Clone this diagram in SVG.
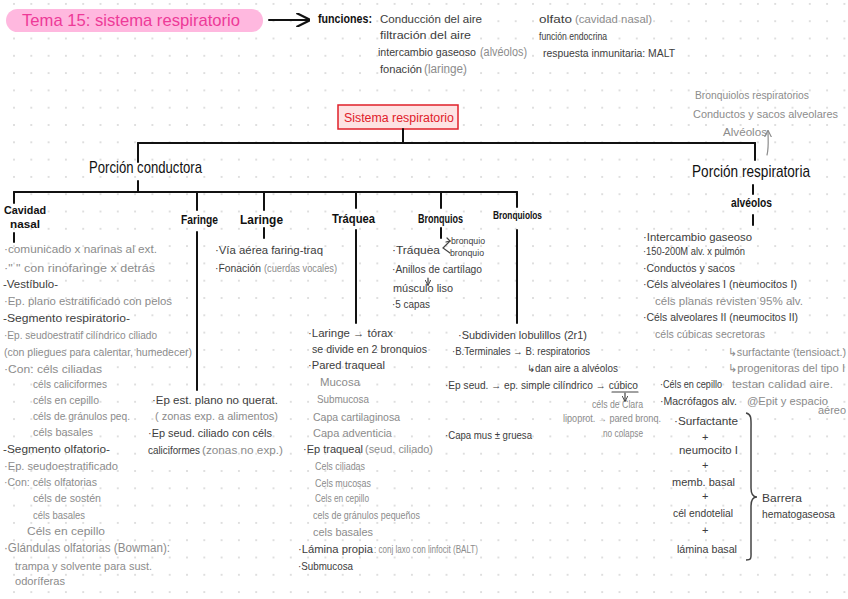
<svg xmlns="http://www.w3.org/2000/svg" width="848" height="599" viewBox="0 0 848 599">
<defs>
<pattern id="dots" patternUnits="userSpaceOnUse" x="5.35" y="-4.75" width="17.3" height="17.3">
<circle cx="8.65" cy="8.65" r="0.9" fill="#cfcfcf"/>
</pattern>
<marker id="ah" viewBox="0 0 10 10" refX="9" refY="5" markerWidth="7" markerHeight="7" orient="auto">
<path d="M0,0 L10,5 L0,10" fill="none" stroke="#111" stroke-width="1.6"/>
</marker>
<marker id="ahg" viewBox="0 0 10 10" refX="9" refY="5" markerWidth="6" markerHeight="6" orient="auto">
<path d="M0,0 L10,5 L0,10" fill="none" stroke="#8a8a8a" stroke-width="1.6"/>
</marker>
<marker id="ahd" viewBox="0 0 10 10" refX="9" refY="5" markerWidth="5" markerHeight="5" orient="auto">
<path d="M0,0 L10,5 L0,10" fill="none" stroke="#444" stroke-width="1.6"/>
</marker>
</defs>
<style>
text{font-family:"Liberation Sans",Arial,sans-serif;}
.h{fill:#111;font-size:17px;}
.b{fill:#111;font-size:12px;font-weight:bold;}
.d{fill:#3d3d3d;font-size:11px;}
.l{fill:#8c8c8c;font-size:11px;}
.s10{font-size:10px;}
.s9{font-size:9px;}
.s12{font-size:12px;}
.c{stroke:#111;stroke-width:2;fill:none;stroke-linecap:round;}
.t{stroke:#444;stroke-width:1.2;fill:none;stroke-linecap:round;}
.g{stroke:#8c8c8c;stroke-width:1.2;fill:none;stroke-linecap:round;}
</style>
<rect width="848" height="599" fill="#fff"/>
<rect width="848" height="599" fill="url(#dots)"/>

<g id="titulo">
<rect x="6" y="9" width="257" height="23" rx="11.5" fill="#ffb8df"/>
<text x="22" y="26" fill="#ee3a98" font-size="17" textLength="218" lengthAdjust="spacingAndGlyphs">Tema 15: sistema respiratorio</text>
</g>

<g id="funciones">
<text x="318" y="23" fill="#111" font-size="13" font-weight="bold" textLength="54" lengthAdjust="spacingAndGlyphs">funciones:</text>
<text class="d" x="380" y="23" textLength="102" lengthAdjust="spacingAndGlyphs">Conducción del aire</text>
<text class="d" x="380" y="39" textLength="91" lengthAdjust="spacingAndGlyphs">filtración del aire</text>
<text class="d" x="378" y="56" textLength="98" lengthAdjust="spacingAndGlyphs">intercambio gaseoso</text>
<text class="l s12" x="480" y="56" textLength="47" lengthAdjust="spacingAndGlyphs">(alvéolos)</text>
<text class="d" x="380" y="73" textLength="42" lengthAdjust="spacingAndGlyphs">fonación</text>
<text class="l s12" x="424" y="73" textLength="43" lengthAdjust="spacingAndGlyphs">(laringe)</text>
<text class="d" x="539" y="23" textLength="33" lengthAdjust="spacingAndGlyphs">olfato</text>
<text class="l" x="575" y="23" textLength="77" lengthAdjust="spacingAndGlyphs">(cavidad nasal)</text>
<text class="d" x="539" y="40" textLength="68" lengthAdjust="spacingAndGlyphs">función endocrina</text>
<text class="d" x="543" y="57" textLength="132" lengthAdjust="spacingAndGlyphs">respuesta inmunitaria: MALT</text>
</g>

<g id="sistema-respiratorio">
<rect x="338" y="105" width="120" height="24" fill="#fde3e3" stroke="#e0202a" stroke-width="1.5"/>
<text x="344" y="122" fill="#e0202a" font-size="12" textLength="110" lengthAdjust="spacingAndGlyphs">Sistema respiratorio</text>
</g>

<g id="porcion-conductora">
<text class="h" x="89" y="173" textLength="113" lengthAdjust="spacingAndGlyphs">Porción conductora</text>
</g>

<g id="porcion-respiratoria">
<text class="h" x="692" y="177" textLength="118" lengthAdjust="spacingAndGlyphs">Porción respiratoria</text>
<text class="l" x="695" y="99" textLength="114" lengthAdjust="spacingAndGlyphs">Bronquiolos respiratorios</text>
<text class="l" x="693" y="118" textLength="145" lengthAdjust="spacingAndGlyphs">Conductos y sacos alveolares</text>
<text class="l" x="723" y="136" textLength="44" lengthAdjust="spacingAndGlyphs">Alvéolos</text>
</g>

<g id="cavidad-nasal">
<text class="b s10" x="4" y="214" textLength="42" lengthAdjust="spacingAndGlyphs">Cavidad</text>
<text class="b s10" x="10" y="228" textLength="30" lengthAdjust="spacingAndGlyphs">nasal</text>
<text class="l" x="4" y="253" textLength="153" lengthAdjust="spacingAndGlyphs">·comunicado x narinas al ext.</text>
<text class="l" x="4" y="272" textLength="151" lengthAdjust="spacingAndGlyphs">·"   " con rinofaringe x detrás</text>
<text class="d" x="3" y="288" textLength="55" lengthAdjust="spacingAndGlyphs">-Vestíbulo-</text>
<text class="l" x="4" y="305" textLength="168" lengthAdjust="spacingAndGlyphs">·Ep. plano estratificado con pelos</text>
<text class="d" x="3" y="322" textLength="127" lengthAdjust="spacingAndGlyphs">-Segmento respiratorio-</text>
<text class="l" x="4" y="339" textLength="153" lengthAdjust="spacingAndGlyphs">·Ep. seudoestratif cilíndrico ciliado</text>
<text class="l" x="4" y="356" textLength="188" lengthAdjust="spacingAndGlyphs">(con pliegues para calentar, humedecer)</text>
<text class="l" x="4" y="373" textLength="98" lengthAdjust="spacingAndGlyphs">·Con: céls ciliadas</text>
<text class="l" x="33" y="388" textLength="74" lengthAdjust="spacingAndGlyphs">céls caliciformes</text>
<text class="l" x="33" y="404" textLength="66" lengthAdjust="spacingAndGlyphs">céls en cepillo</text>
<text class="l" x="33" y="420" textLength="97" lengthAdjust="spacingAndGlyphs">céls de gránulos peq.</text>
<text class="l" x="33" y="436" textLength="60" lengthAdjust="spacingAndGlyphs">céls basales</text>
<text class="d" x="3" y="453" textLength="107" lengthAdjust="spacingAndGlyphs">-Segmento olfatorio-</text>
<text class="l" x="4" y="470" textLength="114" lengthAdjust="spacingAndGlyphs">·Ep. seudoestratificado</text>
<text class="l" x="4" y="486" textLength="93" lengthAdjust="spacingAndGlyphs">·Con: céls olfatorias</text>
<text class="l" x="33" y="502" textLength="68" lengthAdjust="spacingAndGlyphs">céls de sostén</text>
<text class="l" x="33" y="519" textLength="52" lengthAdjust="spacingAndGlyphs">céls basales</text>
<text class="l" x="27" y="535" textLength="78" lengthAdjust="spacingAndGlyphs">Céls en cepillo</text>
<text class="l s12" x="4" y="552" textLength="166" lengthAdjust="spacingAndGlyphs">·Glándulas olfatorias (Bowman):</text>
<text class="l" x="15" y="570" textLength="137" lengthAdjust="spacingAndGlyphs">trampa y solvente para sust.</text>
<text class="l" x="15" y="585" textLength="50" lengthAdjust="spacingAndGlyphs">odoríferas</text>
</g>

<g id="faringe">
<text class="b" x="181" y="224" textLength="37" lengthAdjust="spacingAndGlyphs">Faringe</text>
<text class="d" x="152" y="404" textLength="126" lengthAdjust="spacingAndGlyphs">·Ep est. plano no querat.</text>
<text class="l" x="155" y="420" textLength="123" lengthAdjust="spacingAndGlyphs">( zonas exp. a alimentos)</text>
<text class="d" x="148" y="437" textLength="124" lengthAdjust="spacingAndGlyphs">·Ep seud. ciliado con céls</text>
<text class="d" x="148" y="454" textLength="52" lengthAdjust="spacingAndGlyphs">caliciformes</text>
<text class="l" x="202" y="454" textLength="81" lengthAdjust="spacingAndGlyphs">(zonas no exp.)</text>
</g>

<g id="laringe">
<text class="b" x="240" y="224" textLength="43" lengthAdjust="spacingAndGlyphs">Laringe</text>
<text class="d" x="215" y="254" textLength="108" lengthAdjust="spacingAndGlyphs">·Vía aérea faring-traq</text>
<text class="d" x="215" y="272" textLength="46" lengthAdjust="spacingAndGlyphs">·Fonación</text>
<text class="l" x="264" y="272" textLength="73" lengthAdjust="spacingAndGlyphs">(cuerdas vocales)</text>
</g>

<g id="traquea">
<text class="b" x="332" y="223" textLength="43" lengthAdjust="spacingAndGlyphs">Tráquea</text>
<text class="d" x="308" y="337" textLength="85" lengthAdjust="spacingAndGlyphs">·Laringe → tórax</text>
<text class="d" x="312" y="353" textLength="115" lengthAdjust="spacingAndGlyphs">se divide en 2 bronquios</text>
<text class="d" x="308" y="369" textLength="77" lengthAdjust="spacingAndGlyphs">·Pared traqueal</text>
<text class="l" x="320" y="386" textLength="40" lengthAdjust="spacingAndGlyphs">Mucosa</text>
<text class="l" x="317" y="403" textLength="52" lengthAdjust="spacingAndGlyphs">Submucosa</text>
<text class="l" x="313" y="421" textLength="87" lengthAdjust="spacingAndGlyphs">Capa cartilaginosa</text>
<text class="l" x="313" y="437" textLength="79" lengthAdjust="spacingAndGlyphs">Capa adventicia</text>
<text class="d" x="303" y="453" textLength="60" lengthAdjust="spacingAndGlyphs">·Ep traqueal</text>
<text class="l" x="365" y="453" textLength="68" lengthAdjust="spacingAndGlyphs">(seud. ciliado)</text>
<text class="l" x="315" y="470" textLength="50" lengthAdjust="spacingAndGlyphs">Cels ciliadas</text>
<text class="l" x="315" y="487" textLength="56" lengthAdjust="spacingAndGlyphs">Cels mucosas</text>
<text class="l" x="315" y="502" textLength="54" lengthAdjust="spacingAndGlyphs">Cels en cepillo</text>
<text class="l" x="313" y="519" textLength="107" lengthAdjust="spacingAndGlyphs">cels de gránulos pequeños</text>
<text class="l" x="313" y="536" textLength="60" lengthAdjust="spacingAndGlyphs">cels basales</text>
<text class="d" x="298" y="553" textLength="75" lengthAdjust="spacingAndGlyphs">·Lámina propia</text>
<text class="l" x="374" y="553" textLength="104" lengthAdjust="spacingAndGlyphs">: conj laxo con linfocit (BALT)</text>
<text class="d" x="298" y="570" textLength="55" lengthAdjust="spacingAndGlyphs">·Submucosa</text>
</g>

<g id="bronquios">
<text class="b" x="418" y="223" textLength="45" lengthAdjust="spacingAndGlyphs">Bronquios</text>
<text class="d" x="392" y="254" textLength="48" lengthAdjust="spacingAndGlyphs">·Tráquea</text>
<text class="d s9" x="451" y="244" textLength="34" lengthAdjust="spacingAndGlyphs">bronquio</text>
<text class="d s9" x="450" y="256" textLength="34" lengthAdjust="spacingAndGlyphs">bronquio</text>
<text class="d" x="392" y="273" textLength="90" lengthAdjust="spacingAndGlyphs">·Anillos de cartílago</text>
<text class="d" x="393" y="292" textLength="60" lengthAdjust="spacingAndGlyphs">músculo liso</text>
<text class="d" x="392" y="308" textLength="38" lengthAdjust="spacingAndGlyphs">·5 capas</text>
</g>

<g id="bronquiolos">
<text class="b s10" x="493" y="219" textLength="49" lengthAdjust="spacingAndGlyphs">Bronquiolos</text>
<text class="d" x="458" y="339" textLength="129" lengthAdjust="spacingAndGlyphs">·Subdividen lobulillos (2r1)</text>
<text class="d" x="452" y="355" textLength="138" lengthAdjust="spacingAndGlyphs">·B.Terminales → B. respiratorios</text>
<text class="d s10" x="527" y="372" textLength="91" lengthAdjust="spacingAndGlyphs">↳dan aire a alvéolos</text>
<text class="d" x="445" y="389" textLength="193" lengthAdjust="spacingAndGlyphs">·Ep seud. → ep. simple cilíndrico → cúbico</text>
<text class="l s10" x="592" y="408" textLength="51" lengthAdjust="spacingAndGlyphs">céls de Clara</text>
<text class="l s10" x="563" y="422" textLength="98" lengthAdjust="spacingAndGlyphs">lipoprot. → pared bronq.</text>
<text class="l s10" x="603" y="437" textLength="40" lengthAdjust="spacingAndGlyphs">no colapse</text>
<text class="d" x="445" y="439" textLength="87" lengthAdjust="spacingAndGlyphs">·Capa mus ± gruesa</text>
</g>

<g id="alveolos">
<text class="b" x="731" y="207" textLength="41" lengthAdjust="spacingAndGlyphs">alvéolos</text>
<text class="d" x="643" y="241" textLength="109" lengthAdjust="spacingAndGlyphs">·Intercambio gaseoso</text>
<text class="d" x="643" y="255" textLength="102" lengthAdjust="spacingAndGlyphs">·150-200M alv. x pulmón</text>
<text class="d" x="643" y="272" textLength="92" lengthAdjust="spacingAndGlyphs">·Conductos y sacos</text>
<text class="d" x="643" y="288" textLength="154" lengthAdjust="spacingAndGlyphs">·Céls alveolares I (neumocitos I)</text>
<text class="l" x="655" y="305" textLength="148" lengthAdjust="spacingAndGlyphs">céls planas revisten 95% alv.</text>
<text class="d" x="643" y="321" textLength="155" lengthAdjust="spacingAndGlyphs">·Céls alveolares II (neumocitos II)</text>
<text class="l" x="655" y="338" textLength="110" lengthAdjust="spacingAndGlyphs">céls cúbicas secretoras</text>
<text class="l" x="728" y="356" textLength="118" lengthAdjust="spacingAndGlyphs">↳surfactante (tensioact.)</text>
<text class="l" x="728" y="372" textLength="117" lengthAdjust="spacingAndGlyphs">↳progenitoras del tipo I</text>
<text class="d" x="660" y="388" textLength="62" lengthAdjust="spacingAndGlyphs">·Céls en cepillo</text>
<text class="l" x="732" y="388" textLength="101" lengthAdjust="spacingAndGlyphs">testan calidad aire.</text>
<text class="d" x="660" y="405" textLength="77" lengthAdjust="spacingAndGlyphs">·Macrófagos alv.</text>
<text class="l" x="747" y="405" textLength="81" lengthAdjust="spacingAndGlyphs">@Epit y espacio</text>
<text class="l s10" x="818" y="414" textLength="28" lengthAdjust="spacingAndGlyphs">aéreo</text>
<text class="d" x="674" y="425" textLength="64" lengthAdjust="spacingAndGlyphs">·Surfactante</text>
<text class="d" x="702" y="441">+</text>
<text class="d" x="679" y="454" textLength="59" lengthAdjust="spacingAndGlyphs">neumocito I</text>
<text class="d" x="702" y="469">+</text>
<text class="d" x="672" y="486" textLength="63" lengthAdjust="spacingAndGlyphs">memb. basal</text>
<text class="d" x="702" y="500">+</text>
<text class="d" x="673" y="517" textLength="60" lengthAdjust="spacingAndGlyphs">cél endotelial</text>
<text class="d" x="702" y="534">+</text>
<text class="d" x="677" y="553" textLength="60" lengthAdjust="spacingAndGlyphs">lámina basal</text>
<text class="d" x="762" y="502" textLength="40" lengthAdjust="spacingAndGlyphs">Barrera</text>
<text class="d" x="762" y="518" textLength="73" lengthAdjust="spacingAndGlyphs">hematogaseosa</text>
</g>

<g id="conectores">
<line class="c" x1="269" y1="20" x2="309" y2="20" marker-end="url(#ah)"/>
<line class="c" x1="403" y1="129" x2="403" y2="143"/>
<line class="c" x1="138" y1="143" x2="755" y2="143"/>
<line class="c" x1="138" y1="143" x2="138" y2="162"/>
<line class="c" x1="755" y1="143" x2="755" y2="160"/>
<line class="c" x1="138" y1="181" x2="138" y2="192"/>
<line class="c" x1="14" y1="192" x2="517" y2="192"/>
<line class="c" x1="14" y1="192" x2="14" y2="203"/>
<line class="c" x1="197" y1="192" x2="197" y2="210"/>
<line class="c" x1="264" y1="192" x2="264" y2="210"/>
<line class="c" x1="356" y1="192" x2="356" y2="208"/>
<line class="c" x1="441" y1="192" x2="441" y2="208"/>
<line class="c" x1="517" y1="192" x2="517" y2="207"/>
<line class="c" x1="14" y1="233" x2="14" y2="242"/>
<line class="c" x1="197" y1="232" x2="197" y2="390"/>
<line class="c" x1="264" y1="228" x2="264" y2="238"/>
<line class="c" x1="356" y1="230" x2="356" y2="323"/>
<line class="c" x1="441" y1="228" x2="441" y2="238"/>
<line class="c" x1="517" y1="230" x2="517" y2="323"/>
<line class="c" x1="753" y1="185" x2="753" y2="194"/>
<line class="c" x1="753" y1="215" x2="753" y2="225"/>
<path class="g" d="M767,155 C769,147 768,139 768,131" marker-end="url(#ahg)"/>
<path class="t" d="M450,241 L443,248 L450,253" />
<path class="t" d="M447,238 L450,241 L446,242"/>
<path class="t" d="M428,278 L428,285" marker-end="url(#ahd)"/>
<line class="t" x1="612" y1="392" x2="638" y2="392"/>
<path class="t" d="M625,393 L625,401" marker-end="url(#ahd)"/>
<path d="M746,413 C752,414 751,420 751,430 L751,488 C751,494 753,497 757,497 C753,497 751,500 751,506 L751,551 C751,558 752,560 746,560" fill="none" stroke="#444" stroke-width="1.5"/>
</g>
</svg>
